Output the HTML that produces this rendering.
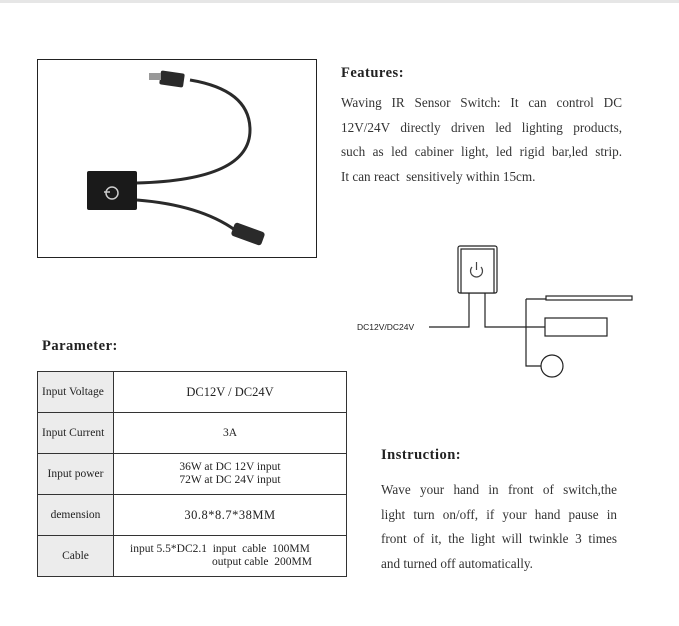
<!DOCTYPE html>
<html><head><meta charset="utf-8"><style>
body{margin:0;width:679px;height:626px;background:#fff;position:relative;overflow:hidden;font-family:"Liberation Serif",serif;color:#222}
.a{position:absolute}
.p{font-size:13.2px;color:#333}
.p div{height:24.5px;line-height:24.5px;text-align:justify;text-align-last:justify;white-space:nowrap}
.p div.e{text-align-last:left}
table{border-collapse:collapse;position:absolute;left:37px;top:371px;width:310px;font-size:11.5px;table-layout:fixed}
td{border:1px solid #333;text-align:center;height:40px;padding:0;line-height:13px}
td.l{background:#ececec}
</style></head><body>
<div class="a" style="left:0;top:0;width:679px;height:3px;background:#e6e6e6"></div>
<div class="a" style="left:37px;top:59px;width:278px;height:197px;border:1px solid #222"></div>
<svg class="a" style="left:0;top:0" width="679" height="626">
<path d="M190 80 Q250 90 250 130 Q250 180 137 183" stroke="#2a2a2a" stroke-width="3" fill="none"/>
<path d="M137 200 Q200 205 235 230" stroke="#2a2a2a" stroke-width="3" fill="none"/>
<rect x="160" y="72" width="24" height="14" rx="2" fill="#2a2a2a" transform="rotate(8 172 79)"/>
<rect x="149" y="73" width="12" height="7" fill="#999"/>
<rect x="232" y="227" width="32" height="14" rx="3" fill="#2a2a2a" transform="rotate(20 248 234)"/>
<rect x="87" y="171" width="50" height="39" rx="2" fill="#1a1a1a"/>
<circle cx="112" cy="193" r="6" stroke="#ccc" stroke-width="1.5" fill="none"/>
<line x1="104" y1="192" x2="110" y2="192" stroke="#ccc" stroke-width="1.5"/>
<g stroke="#222" stroke-width="1.2" fill="none">
<rect x="458" y="246" width="39" height="47" rx="2"/>
<rect x="461" y="249" width="33" height="44" fill="#fff"/>
<path d="M469 293 V327 H429 M485 293 V327 H545 M526 299 V366 H541 M526 299 H546"/>
<rect x="546" y="296" width="86" height="4"/>
<rect x="545" y="318" width="62" height="18"/>
<circle cx="552" cy="366" r="11"/>
<path d="M472 267 A6 6 0 1 0 481 267" stroke="#444"/>
<line x1="476.5" y1="262" x2="476.5" y2="270" stroke="#444"/>
</g>
<text x="357" y="330" font-family="Liberation Sans,sans-serif" font-size="8.5" fill="#222">DC12V/DC24V</text>
</svg>
<div class="a" style="left:341px;top:65px;font-size:14.5px;font-weight:bold;letter-spacing:.5px">Features:</div>
<div class="a p" style="left:341px;top:91px;width:281px">
<div>Waving IR Sensor Switch: It can control DC</div>
<div>12V/24V directly driven led lighting products,</div>
<div>such as led cabiner light, led rigid bar,led strip.</div>
<div class="e">It can react&nbsp; sensitively within 15cm.</div></div>
<div class="a" style="left:42px;top:338px;font-size:14.5px;font-weight:bold;letter-spacing:.5px">Parameter:</div>
<table>
<colgroup><col style="width:76px"><col></colgroup>
<tr><td class="l" style="text-align:left;padding-left:4px">Input Voltage</td><td style="font-size:12.5px">DC12V / DC24V</td></tr>
<tr><td class="l" style="text-align:left;padding-left:4px">Input Current</td><td>3A</td></tr>
<tr><td class="l">Input power</td><td>36W at DC 12V input<br>72W at DC 24V input</td></tr>
<tr><td class="l">demension</td><td style="font-size:12.5px;letter-spacing:.5px">30.8*8.7*38MM</td></tr>
<tr><td class="l">Cable</td><td style="text-align:left;padding-left:16px">input 5.5*DC2.1&nbsp; input&nbsp; cable&nbsp; 100MM<br><span style="padding-left:82px">output cable&nbsp; 200MM</span></td></tr>
</table>
<div class="a" style="left:381px;top:447px;font-size:14.5px;font-weight:bold;letter-spacing:.5px">Instruction:</div>
<div class="a p" style="left:381px;top:478px;width:236px">
<div>Wave your hand in front of switch,the</div>
<div>light turn on/off, if your hand pause in</div>
<div>front of it, the light will twinkle 3 times</div>
<div class="e">and turned off automatically.</div></div>
</body></html>
